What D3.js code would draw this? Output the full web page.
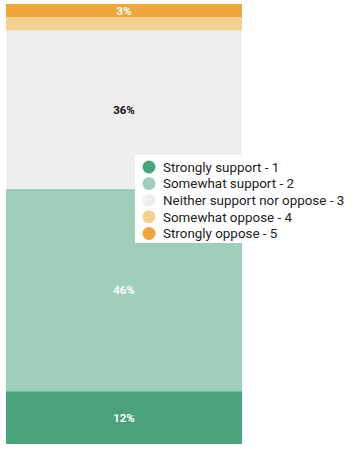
<!DOCTYPE html>
<html><head><meta charset="utf-8">
<script src="https://cdn.jsdelivr.net/npm/d3@7"></script>
<style>body{margin:0;background:#fff}svg{display:block}</style>
</head><body><svg id="c" width="355" height="449"></svg>
<script>
const categories = ["Strongly support - 1","Somewhat support - 2","Neither support nor oppose - 3","Somewhat oppose - 4","Strongly oppose - 5"];
const values = [12, 46, 36, 3, 3];
const colors = ["#4aa37a","#9fcfbb","#efefef","#f3d192","#f0a63e"];
const labelColors = ["#fff","#fff","#111","#fff","#fff"];
const showLabel = [true, true, true, false, true];

const svg = d3.select("#c");
const x = d3.scaleBand().domain(["all"]).range([6, 242]).padding(0);
const y = d3.scaleLinear().domain([0, d3.sum(values)]).range([444, 4]);

let acc = 0;
const segs = values.map((v,i)=>{ const s={i, v, y0:acc, y1:acc+v}; acc+=v; return s; });

svg.selectAll("rect.seg").data(segs).join("rect")
  .attr("class","seg")
  .attr("x", x("all")).attr("width", x.bandwidth())
  .attr("y", d=>y(d.y1)).attr("height", d=>y(d.y0)-y(d.y1))
  .attr("fill", d=>colors[d.i]);

svg.selectAll("text.lbl").data(segs.filter(d=>showLabel[d.i])).join("text")
  .attr("class","lbl")
  .attr("x", x("all")+x.bandwidth()/2)
  .attr("y", d=>(y(d.y0)+y(d.y1))/2)
  .attr("dy","0.35em")
  .attr("text-anchor","middle")
  .attr("font-family","Roboto, sans-serif")
  .attr("font-weight","bold")
  .attr("font-size","11.5px")
  .attr("fill", d=>labelColors[d.i])
  .text(d=>d.v+"%");

// legend
const lg = svg.append("g");
lg.append("rect").attr("x",135).attr("y",155).attr("width",220).attr("height",88).attr("fill","#fff");
const rows = lg.selectAll("g.r").data(categories).join("g").attr("class","r")
  .attr("transform",(d,i)=>`translate(149,${167+i*16.6})`);
rows.append("circle").attr("r",6.5).attr("fill",(d,i)=>colors[i]);
rows.append("text").attr("x",14).attr("dy","0.35em")
  .attr("font-family","Roboto, sans-serif").attr("font-size","13.4px").attr("fill","#222")
  .text(d=>d);
</script></body></html>
